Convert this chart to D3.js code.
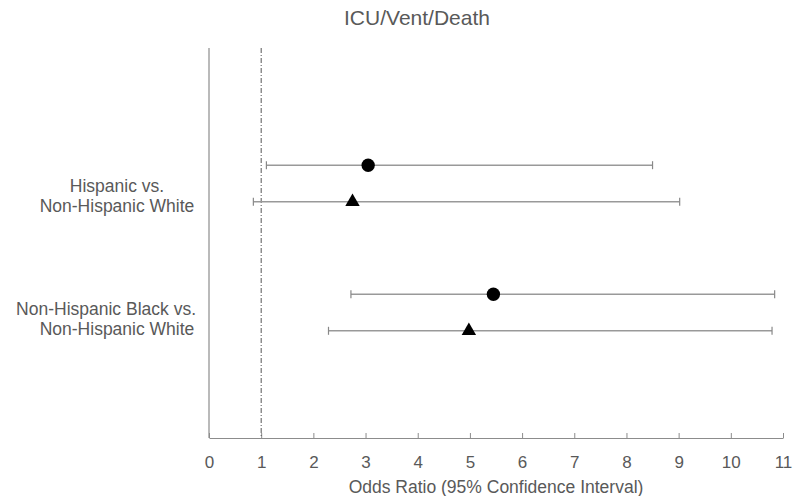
<!DOCTYPE html>
<html>
<head>
<meta charset="utf-8">
<script src="https://cdn.jsdelivr.net/npm/d3@7"></script>
<style>
  body { margin: 0; background: #fff; }
  text { font-family: "Liberation Sans", Arial, sans-serif; fill: #595959; }
</style>
</head>
<body>
<svg id="chart" width="796" height="496"></svg>
<script>
// Comparison groups (y categories)
const groups = ["Hispanic vs.\nNon-Hispanic White", "Non-Hispanic Black vs.\nNon-Hispanic White"];
// Two estimates per group: circle first, triangle second
const markers = ["circle", "triangle"];
const oddsRatio = [[3.05, 2.75], [5.45, 4.98]];
const ciLow = [[1.10, 0.85], [2.72, 2.29]];
const ciHigh = [[8.50, 9.02], [10.84, 10.79]];
const xTicks = [0, 1, 2, 3, 4, 5, 6, 7, 8, 9, 10, 11];

const svg = d3.select("#chart");

const plotLeft = 209, plotRight = 783, plotTop = 48, plotBottom = 438;

const x = d3.scaleLinear().domain([0, 11]).range([plotLeft, plotRight]);

// band for each group, inner offset for each marker row
const y = d3.scaleBand().domain(d3.range(groups.length)).range([119, 377]);
const yInner = d3.scalePoint().domain(markers).range([-18.3, 18.3]);
// labels sit a bit lower than the marker pairs
const yLabel = d3.scaleBand().domain(d3.range(groups.length)).range([134.5, 380.5]);

// Title
svg.append("text")
    .attr("x", 417).attr("y", 25)
    .attr("text-anchor", "middle")
    .style("font-size", "21px")
    .text("ICU/Vent/Death");

// Left frame line
svg.append("line")
    .attr("x1", plotLeft).attr("x2", plotLeft)
    .attr("y1", plotTop).attr("y2", plotBottom)
    .attr("stroke", "#8c8c8c").attr("stroke-width", 1.2);

// x axis with ticks pointing up
const xAxis = svg.append("g")
    .attr("transform", `translate(0,${plotBottom})`)
    .call(d3.axisBottom(x).tickValues(xTicks).tickSizeInner(-5).tickSizeOuter(0).tickPadding(18));
xAxis.select(".domain").attr("stroke", "#8c8c8c").attr("stroke-width", 1.2);
xAxis.selectAll(".tick line").attr("stroke", "#8c8c8c");
xAxis.selectAll(".tick text")
    .style("font-size", "17px")
    .style("font-family", "'Liberation Sans', Arial, sans-serif")
    .attr("fill", "#595959");

// Axis title
svg.append("text")
    .attr("x", (plotLeft + plotRight) / 2).attr("y", 493)
    .attr("text-anchor", "middle")
    .style("font-size", "17.5px")
    .text("Odds Ratio (95% Confidence Interval)");

// Reference line at OR = 1
svg.append("line")
    .attr("x1", x(1)).attr("x2", x(1))
    .attr("y1", plotTop).attr("y2", plotBottom)
    .attr("stroke", "#555").attr("stroke-width", 1)
    .attr("stroke-dasharray", "5,2,1,2");

// Group labels
groups.forEach((g, i) => {
    const lines = g.split("\n");
    const cy = yLabel(i) + yLabel.bandwidth() / 2;
    const t = svg.append("text")
        .style("font-size", "17.5px");
    lines.forEach((ln, j) => {
        t.append("tspan")
            .attr("x", 0)
            .attr("y", cy + (j - (lines.length - 1) / 2) * 20.5 + 6)
            .text(ln);
    });
    // centre each line around 117, but keep right edge at 196
    t.selectAll("tspan").each(function () {
        const w = this.getComputedTextLength();
        const c = Math.min(117, 196 - w / 2);
        d3.select(this).attr("x", c).attr("text-anchor", "middle");
    });
});

// Build rows from data
const rows = [];
groups.forEach((g, i) => {
    markers.forEach((m, k) => {
        rows.push({
            group: i, marker: m,
            or: oddsRatio[i][k], lo: ciLow[i][k], hi: ciHigh[i][k],
            yy: y(i) + y.bandwidth() / 2 + yInner(m)
        });
    });
});

const rowG = svg.append("g").selectAll("g")
    .data(rows).enter().append("g");

rowG.append("line")
    .attr("x1", d => x(d.lo)).attr("x2", d => x(d.hi))
    .attr("y1", d => d.yy).attr("y2", d => d.yy)
    .attr("stroke", "#999").attr("stroke-width", 1.5);

rowG.append("line")
    .attr("x1", d => x(d.lo)).attr("x2", d => x(d.lo))
    .attr("y1", d => d.yy - 4).attr("y2", d => d.yy + 4)
    .attr("stroke", "#888").attr("stroke-width", 1.2);

rowG.append("line")
    .attr("x1", d => x(d.hi)).attr("x2", d => x(d.hi))
    .attr("y1", d => d.yy - 4).attr("y2", d => d.yy + 4)
    .attr("stroke", "#888").attr("stroke-width", 1.2);

const sym = d3.symbol()
    .type(d => d.marker === "circle" ? d3.symbolCircle : d3.symbolTriangle)
    .size(d => d.marker === "circle" ? 140 : 90);

rowG.append("path")
    .attr("d", sym)
    .attr("transform", d => `translate(${x(d.or)},${d.yy})`)
    .attr("fill", "#000");
</script>
</body>
</html>
